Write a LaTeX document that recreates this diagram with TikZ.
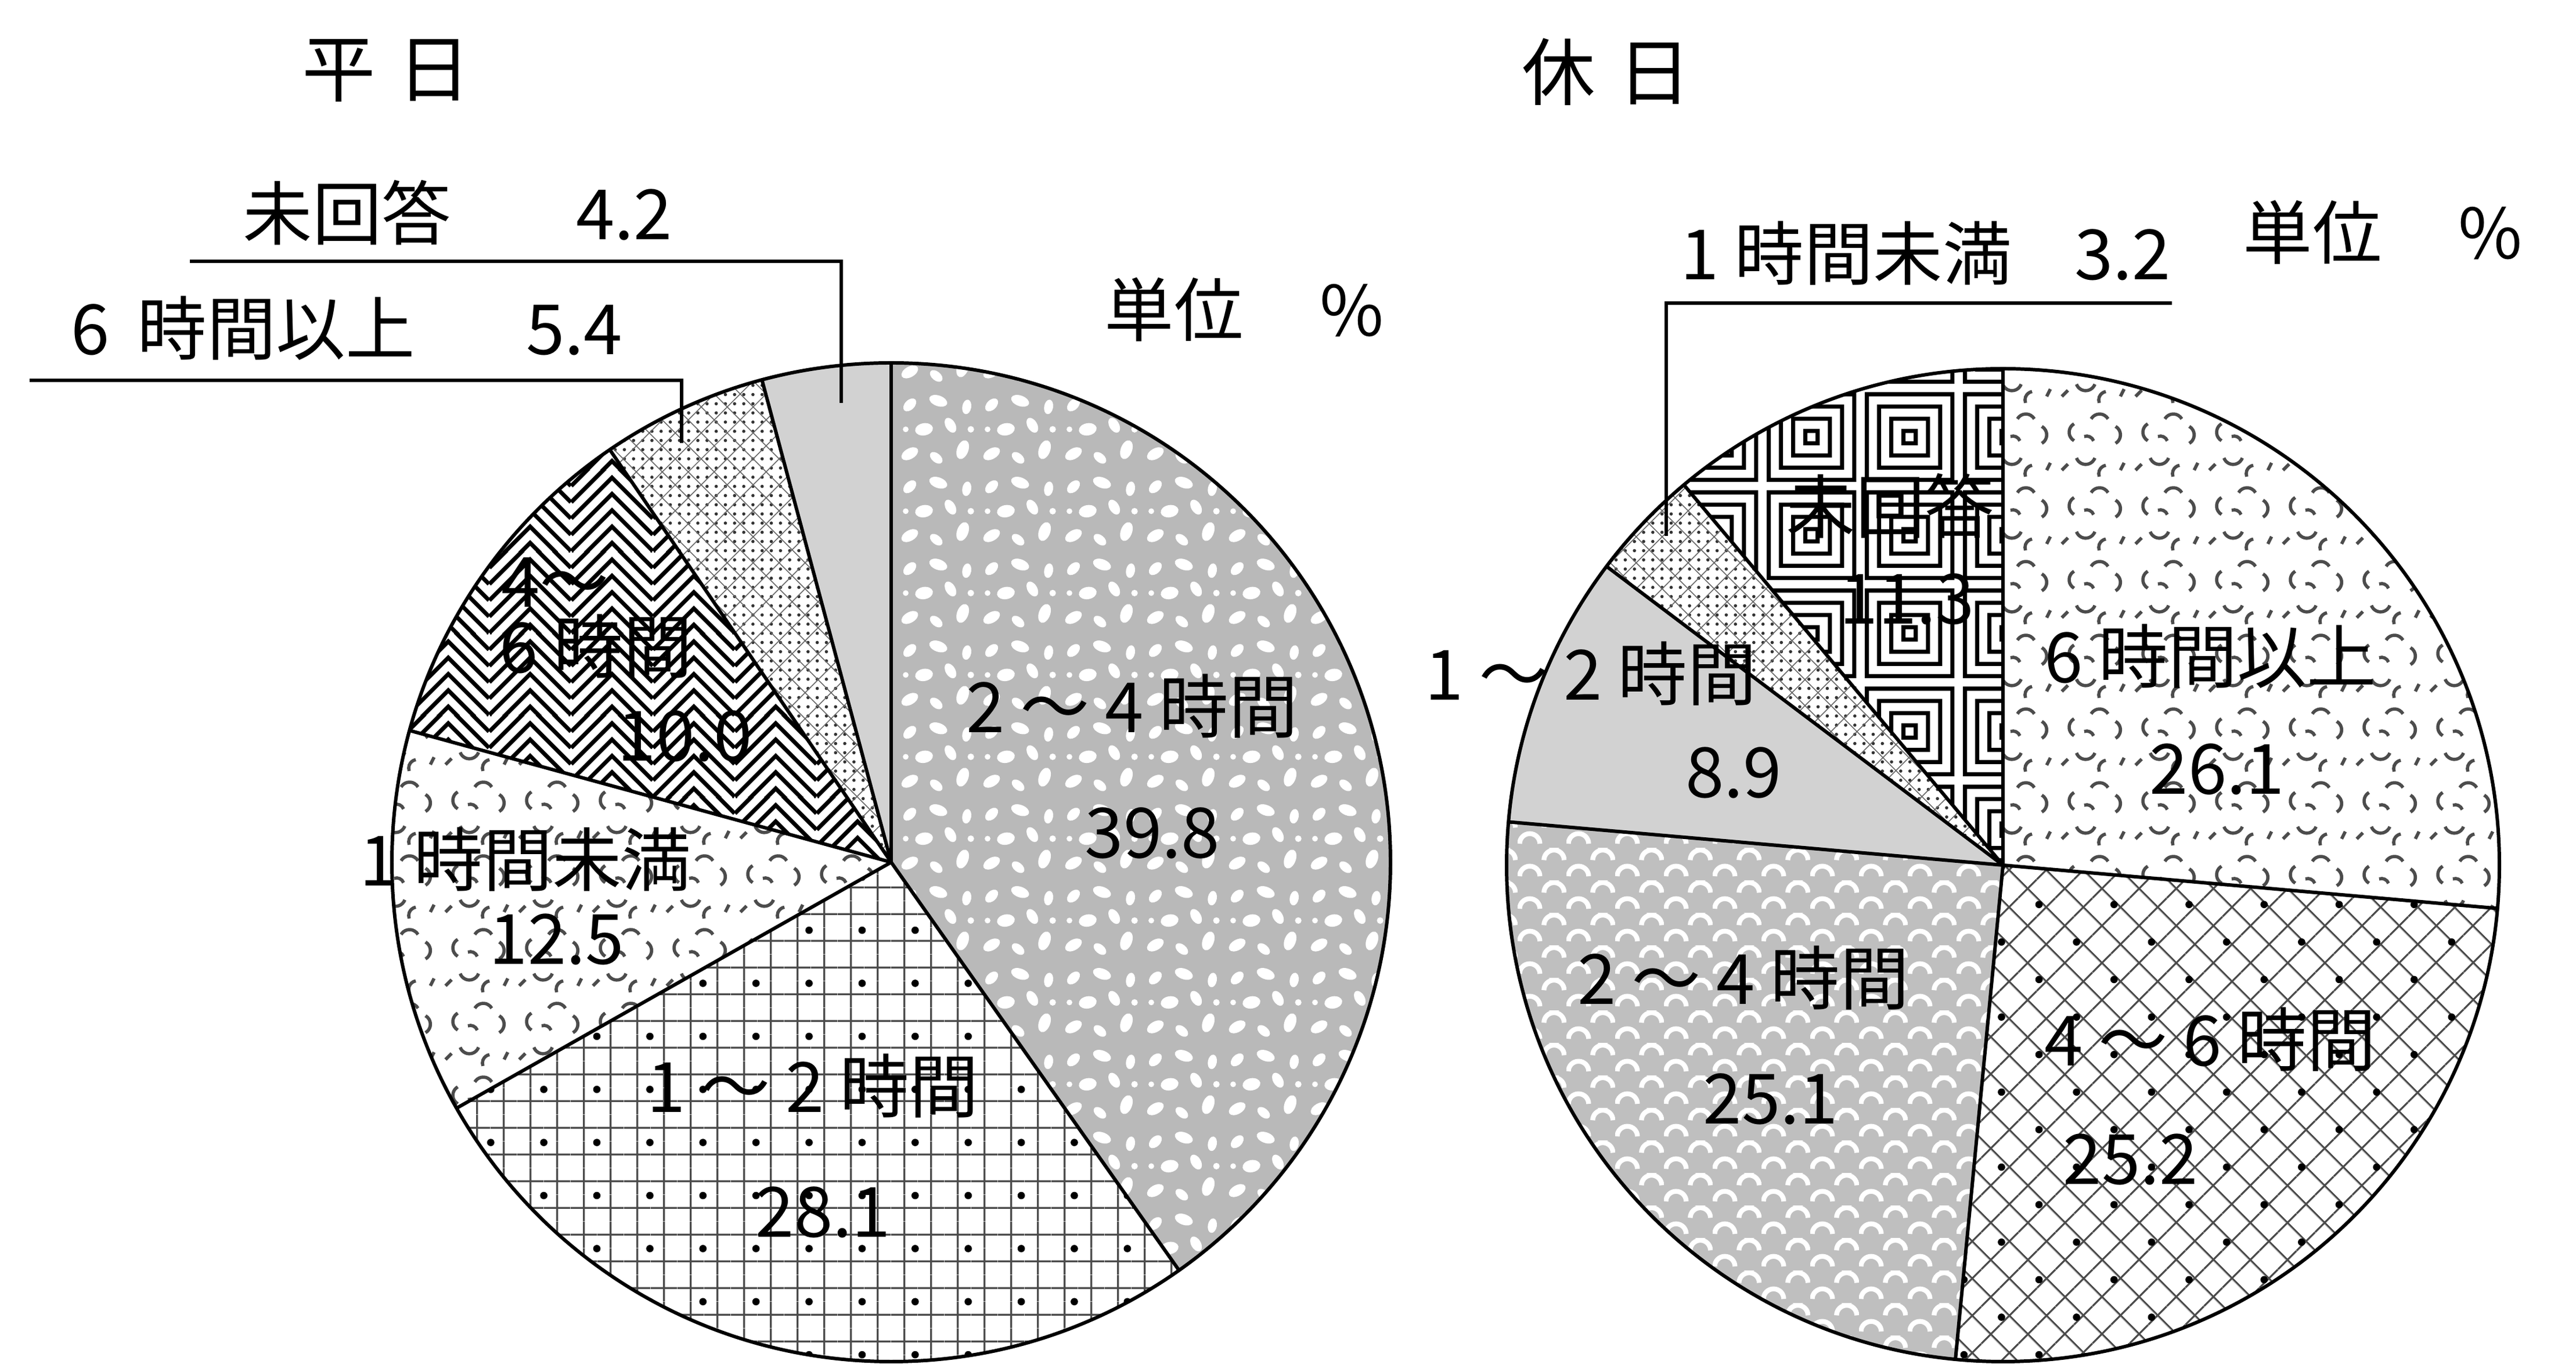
\documentclass[tikz,border=0pt]{standalone}
\usepackage{fontspec}
\setmainfont{Noto Sans CJK JP}
\usetikzlibrary{patterns,patterns.meta}

% textures used by the slices
\tikzdeclarepattern{
  name=blotch, type=uncolored,
  bottom left={(0pt,0pt)}, top right={(40pt,40pt)},
  tile size={(40pt,40pt)},
  code={
    \tikzset{x=1pt,y=1pt}
    \fill[rotate around={30:(6,7)}] (6,7) ellipse[x radius=4.5pt, y radius=2.6pt];
    \fill[rotate around={-40:(19,5)}] (19,5) ellipse[x radius=3.6pt, y radius=2.2pt];
    \fill[rotate around={70:(32,9)}] (32,9) ellipse[x radius=4.8pt, y radius=2.8pt];
    \fill[rotate around={10:(13,19)}] (13,19) ellipse[x radius=4.4pt, y radius=3pt];
    \fill[rotate around={-60:(26,21)}] (26,21) ellipse[x radius=4pt, y radius=2.4pt];
    \fill[rotate around={45:(6,31)}] (6,31) ellipse[x radius=3.8pt, y radius=2.4pt];
    \fill[rotate around={-20:(20,33)}] (20,33) ellipse[x radius=4.6pt, y radius=2.6pt];
    \fill[rotate around={80:(34,30)}] (34,30) ellipse[x radius=3.6pt, y radius=2.2pt];
    \fill (36,19) circle[radius=1.6pt];
    \fill (4,19) circle[radius=1.4pt];
  }
}
\tikzdeclarepattern{
  name=scales, type=uncolored,
  bottom left={(0pt,0pt)}, top right={(24pt,16pt)},
  tile size={(24pt,16pt)},
  code={
    \tikzset{x=1pt,y=1pt}
    \draw[line width=2.4pt] (1,2) arc[start angle=180, end angle=0, radius=5pt];
    \draw[line width=2.4pt] (13,10) arc[start angle=180, end angle=0, radius=5pt];
  }
}
\tikzdeclarepattern{
  name=squiggle, type=uncolored,
  bottom left={(0pt,0pt)}, top right={(36pt,36pt)},
  tile size={(36pt,36pt)},
  code={
    \tikzset{x=1pt,y=1pt}
    \draw[line width=1.6pt] (8.4,30) arc[start angle=120, end angle=240, radius=4.8pt];
    \draw[line width=1.6pt] (16.8,32.4) arc[start angle=150, end angle=30, radius=4.8pt];
    \draw[line width=1.6pt] (28.8,20.4) arc[start angle=-60, end angle=60, radius=4.8pt];
    \draw[line width=1.6pt] (9.6,13.2) arc[start angle=200, end angle=340, radius=4.8pt];
    \draw[line width=1.6pt] (24,9.6) arc[start angle=100, end angle=200, radius=4.2pt];
    \draw[line width=1.6pt] (18,21.6) arc[start angle=20, end angle=110, radius=3.6pt];
    \draw[line width=1.6pt] (2.4,7.2) -- (5.4,10.2);
    \draw[line width=1.6pt] (31.2,7.2) -- (33,10.8);
  }
}
\tikzdeclarepattern{
  name=chevron, type=uncolored,
  bottom left={(0pt,0pt)}, top right={(40pt,40pt)},
  tile size={(40pt,40pt)},
  code={
    \tikzset{x=1pt,y=1pt}
    \foreach \k in {-3,...,5}
      \draw[line width=2pt] (0,\k*8) -- (20,\k*8+20) -- (40,\k*8);
  }
}
\tikzdeclarepattern{
  name=meander, type=uncolored,
  bottom left={(0pt,0pt)}, top right={(48pt,48pt)},
  tile size={(48pt,48pt)},
  code={
    \tikzset{x=1pt,y=1pt}
    \draw[line width=2pt] (3,3) rectangle (45,45);
    \draw[line width=2pt] (9,9) rectangle (39,39);
    \draw[line width=2pt] (15,15) rectangle (33,33);
    \draw[line width=2pt] (21,21) rectangle (27,27);
  }
}

\tikzset{
  rim/.style={line width=1.7pt, line join=round},
  leader/.style={line width=1.5pt},
  lbl/.style={inner sep=0pt, font=\fontsize{34}{40}\selectfont},
  ttl/.style={inner sep=0pt, font=\fontsize{36}{42}\selectfont},
  flat/.style={fill=gray!35},
  mottled/.style={fill=gray!55, postaction={pattern=blotch, pattern color=white}},
  scaly/.style={fill=gray!50, postaction={pattern=scales, pattern color=white}},
  squiggly/.style={pattern=squiggle, pattern color=black!70},
  zigzag/.style={pattern=chevron, pattern color=black},
  maze/.style={pattern=meander, pattern color=black},
  fine/.style={pattern={Dots[distance=4.5pt, radius=0.8pt]}, pattern color=black!80,
    postaction={pattern={Hatch[distance=9pt, angle=45, line width=0.45pt]}, pattern color=black!60}},
  boxes/.style={pattern={Hatch[distance=13pt, line width=0.9pt]}, pattern color=black!70,
    postaction={pattern={Dots[distance=26pt, radius=1.8pt, xshift=6.5pt, yshift=6.5pt]}, pattern color=black}},
  diaboxes/.style={pattern={Hatch[distance=13pt, angle=45, line width=0.9pt]}, pattern color=black!70,
    postaction={pattern={Dots[distance=26pt, angle=45, radius=1.8pt, xshift=6.5pt, yshift=6.5pt]}, pattern color=black}},
}

\begin{document}
\begin{tikzpicture}
  \useasboundingbox (0,0) rectangle (44.37,23.56);

  % weekday pie
  \begin{scope}[shift={(15.35,8.71)}]
    \fill[mottled] (0,0) -- (90:8.6) arc[start angle=90, end angle=-54.8, radius=8.6] -- cycle;
    \fill[boxes] (0,0) -- (-54.8:8.6) arc[start angle=-54.8, end angle=-150.5, radius=8.6] -- cycle;
    \fill[squiggly] (0,0) -- (-150.5:8.6) arc[start angle=-150.5, end angle=-195.3, radius=8.6] -- cycle;
    \fill[zigzag] (0,0) -- (-195.3:8.6) arc[start angle=-195.3, end angle=-235.7, radius=8.6] -- cycle;
    \fill[fine] (0,0) -- (-235.7:8.6) arc[start angle=-235.7, end angle=-255, radius=8.6] -- cycle;
    \fill[flat] (0,0) -- (-255:8.6) arc[start angle=-255, end angle=-270, radius=8.6] -- cycle;
    \draw[rim] (0,0) circle[radius=8.6];
    \foreach \a in {90,-54.8,-150.5,164.7,124.3,105}
      \draw[rim] (0,0) -- (\a:8.6);
  \end{scope}

  % holiday pie
  \begin{scope}[shift={(34.50,8.66)}]
    \fill[squiggly] (0,0) -- (90:8.55) arc[start angle=90, end angle=-5, radius=8.55] -- cycle;
    \fill[diaboxes] (0,0) -- (-5:8.55) arc[start angle=-5, end angle=-95.5, radius=8.55] -- cycle;
    \fill[scaly] (0,0) -- (-95.5:8.55) arc[start angle=-95.5, end angle=-185, radius=8.55] -- cycle;
    \fill[flat] (0,0) -- (-185:8.55) arc[start angle=-185, end angle=-217, radius=8.55] -- cycle;
    \fill[fine] (0,0) -- (-217:8.55) arc[start angle=-217, end angle=-230, radius=8.55] -- cycle;
    \fill[maze] (0,0) -- (-230:8.55) arc[start angle=-230, end angle=-270, radius=8.55] -- cycle;
    \draw[rim] (0,0) circle[radius=8.55];
    \foreach \a in {90,-5,-95.5,-185,-217,-230}
      \draw[rim] (0,0) -- (\a:8.55);
  \end{scope}

  % titles
  \node[ttl] (lt) at (6.66,22.34) {平\hspace{0.3em}日};
  \node[ttl] (rt) at (27.67,22.32) {休\hspace{0.3em}日};

  % weekday labels
  \node[lbl, anchor=west] (lna) at (4.18,19.90) {未回答\hspace{1.8em}4.2};
  \node[lbl, anchor=west] (l6up) at (1.22,17.91) {6\hspace{0.4em}時間以上\hspace{1.6em}5.4};
  \node[lbl, anchor=west] (lunit) at (19.02,18.23) {単位\hspace{1.1em}\%};
  \coordinate (lnaA) at (3.27,19.06);
  \coordinate (lnaB) at (14.49,19.06);
  \coordinate (lnaC) at (14.49,16.62);
  \coordinate (l6A) at (0.51,17.01);
  \coordinate (l6B) at (11.74,17.01);
  \coordinate (l6C) at (11.74,15.93);
  \draw[leader] (lnaA) -- (lnaB) -- (lnaC);
  \draw[leader] (l6A) -- (l6B) -- (l6C);
  \node[lbl] (l24) at (19.50,11.40) {2 ～ 4 時間};
  \node[lbl] (l24v) at (19.85,9.21) {39.8};
  \node[lbl] (l46a) at (9.56,13.53) {4～};
  \node[lbl] (l46b) at (10.27,12.43) {6 時間};
  \node[lbl] (l46v) at (11.80,10.88) {10.0};
  \node[lbl] (l01) at (9.05,8.76) {1 時間未満};
  \node[lbl] (l01v) at (9.59,7.38) {12.5};
  \node[lbl] (l12) at (14.00,4.86) {1 ～ 2 時間};
  \node[lbl] (l12v) at (14.18,2.68) {28.1};

  % holiday labels
  \node[lbl, anchor=west] (r01) at (28.94,19.20) {1 時間未満\hspace{0.9em}3.2};
  \node[lbl, anchor=west] (runit) at (38.63,19.56) {単位\hspace{1.1em}\%};
  \coordinate (r01A) at (37.41,18.34);
  \coordinate (r01B) at (28.70,18.34);
  \coordinate (r01C) at (28.70,14.33);
  \draw[leader] (r01A) -- (r01B) -- (r01C);
  \node[lbl] (rna) at (32.56,14.85) {未回答};
  \node[lbl] (rnav) at (32.85,13.24) {11.3};
  \node[lbl] (r6up) at (38.07,12.26) {6 時間以上};
  \node[lbl] (r6upv) at (38.19,10.31) {26.1};
  \node[lbl] (r12) at (27.40,11.96) {1 ～ 2 時間};
  \node[lbl] (r12v) at (29.86,10.25) {8.9};
  \node[lbl] (r24) at (30.03,6.72) {2 ～ 4 時間};
  \node[lbl] (r24v) at (30.50,4.63) {25.1};
  \node[lbl] (r46) at (38.07,5.66) {4 ～ 6 時間};
  \node[lbl] (r46v) at (36.70,3.59) {25.2};
\end{tikzpicture}
\end{document}
